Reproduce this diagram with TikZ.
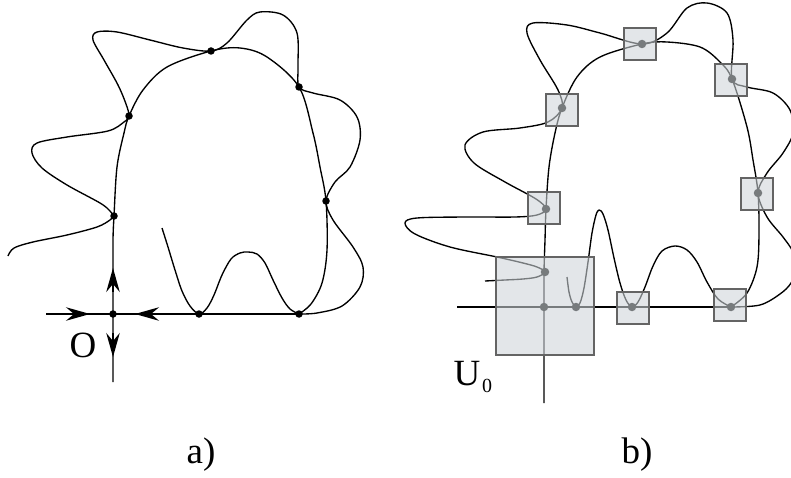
\documentclass[tikz,border=0pt]{standalone}
\usepackage{fontspec}
\setmainfont{Liberation Serif}
\newfontfamily\lblfont{Liberation Serif}
\usetikzlibrary{arrows.meta}
\definecolor{boxfill}{RGB}{206,212,217}
\definecolor{boxline}{RGB}{100,100,100}
\begin{document}
\begin{tikzpicture}[x=1pt,y=-1pt,
  curve/.style={line width=1.35pt,black,line join=round},
  smoothcurve/.style={curve,smooth,tension=0.55},
  dotpt/.style={circle,fill=black,inner sep=0pt,minimum size=7.5pt},
  dotb/.style={circle,fill=black,inner sep=0pt,minimum size=8.5pt},
  nbhd/.style={rectangle,draw=boxline,line width=1.1pt,fill=boxfill,fill opacity=0.58,draw opacity=1,inner sep=0pt,minimum size=32pt},
  bignbhd/.style={nbhd,minimum size=98pt},
  arr/.style={line width=1.35pt,-{Stealth[length=24pt,width=13.5pt,inset=8pt]}},
  lbl/.style={font=\lblfont\fontsize{37}{37}\selectfont,inner sep=0pt},
  sublbl/.style={font=\lblfont\fontsize{20}{20}\selectfont,inner sep=0pt}]
\useasboundingbox (0,0) rectangle (791,478);

% ---------------- panel a ----------------
\draw[smoothcurve] plot coordinates {(113,382) (113,330) (113,280) (113,240) (114,216) (117,167) (124,133) (129,116) (143,90) (167,67) (211,51) (240,48) (267,57) (299,87) (313,133) (320,167) (326,201) (327,250) (322,283) (311,304) (299,314)};
\coordinate (hA) at (46,314);
\coordinate (hB) at (299,314);
\draw[curve] (hA) -- (hB);
\draw[smoothcurve] plot coordinates {(8,256) (14,248) (33,242) (67,235) (97,227) (110,220) (113,216) (110,211) (100,203) (67,185) (42,168) (32,153) (37,143) (67,137) (108,131) (124,122) (129,116) (126,104) (118,85) (104,60) (93,40) (97,32) (117,32) (150,40) (183,48) (211,51) (227,43) (247,20) (260,12) (283,15) (297,33) (298,67) (299,87) (313,93) (340,100) (357,117) (360,140) (350,167) (335,182) (326,201) (333,220) (353,247) (363,267) (360,287) (342,306) (317,313) (299,314)};
\draw[smoothcurve] plot coordinates {(162,228) (168,247) (175,270) (182,291) (190,306) (199,314) (207,308) (214,295) (222,275) (231,259) (240,253) (248,252) (257,254) (265,263) (273,280) (282,298) (290,309) (299,314)};
\node[dotpt] (a0) at (113,314) {};
\node[dotpt] (a1) at (199,314) {};
\node[dotpt] (a2) at (299,314) {};
\node[dotpt] (a3) at (114,216) {};
\node[dotpt] (a4) at (129,116) {};
\node[dotpt] (a5) at (211,51) {};
\node[dotpt] (a6) at (299,87) {};
\node[dotpt] (a7) at (326,201) {};
\coordinate (r1) at (66,314); \coordinate (r2) at (90,314);
\coordinate (l1) at (160,314); \coordinate (l2) at (135,314);
\coordinate (u1) at (113,292); \coordinate (u2) at (113,268);
\coordinate (d1) at (113,333); \coordinate (d2) at (113,357);
\draw[arr] (r1) -- (r2);
\draw[arr] (l1) -- (l2);
\draw[arr] (u1) -- (u2);
\draw[arr] (d1) -- (d2);
\node[lbl] (lO) at (83,345) {O};
\node[lbl] (la) at (201,455) {a)};

% ---------------- panel b ----------------
\draw[smoothcurve] plot coordinates {(544,403) (544,350) (544,307) (544,272) (545,240) (546,209) (549,167) (555,133) (562,108) (577,77) (600,57) (642,44) (667,42) (700,47) (720,62) (732,79) (747,127) (753,160) (758,193) (759,233) (757,267) (747,293) (731,307)};
\coordinate (hC) at (457,307);
\coordinate (hD) at (731,307);
\draw[curve] (hC) -- (hD);
\draw[smoothcurve] plot coordinates {(485,281) (505,280) (523,279) (537,277) (545,272) (537,267) (523,263) (497,257) (450,247) (415,234) (405,223) (417,218) (467,217) (515,217) (537,215) (546,209) (536,199) (505,182) (474,163) (465,145) (483,132) (520,128) (548,122) (562,108) (558,90) (540,60) (527,33) (533,23) (567,25) (600,33) (642,44) (667,33) (687,8) (707,3) (727,13) (733,40) (732,79) (747,87) (773,93) (790,110) (793,133) (783,153) (767,173) (758,193) (767,217) (783,237) (793,252) (796,268) (791,283) (780,294) (760,305) (731,307)};
\draw[smoothcurve] plot coordinates {(567,277) (569,292) (572,302) (576,307) (580,303) (584,288) (588,262) (592,233) (596,215) (599,210) (603,214) (608,230) (614,258) (620,283) (626,300) (632,307) (638,302) (645,287) (653,266) (662,251) (675,246) (687,250) (697,262) (707,282) (718,299) (731,307)};
\node[dotb] (b0) at (544,307) {};
\node[dotb] (b1) at (576,307) {};
\node[dotb] (b2) at (545,272) {};
\node[dotb] (b3) at (546,209) {};
\node[dotb] (b4) at (562,108) {};
\node[dotb] (b5) at (642,44) {};
\node[dotb] (b6) at (732,79) {};
\node[dotb] (b7) at (758,193) {};
\node[dotb] (b8) at (731,307) {};
\node[dotb] (b9) at (632,307) {};
\node[bignbhd] (U0) at (545,306) {};
\node[nbhd] (n1) at (562,110) {};
\node[nbhd] (n2) at (640,44) {};
\node[nbhd] (n3) at (731,80) {};
\node[nbhd] (n4) at (757,194) {};
\node[nbhd] (n5) at (544,208) {};
\node[nbhd] (n6) at (633,308) {};
\node[nbhd] (n7) at (730,305) {};
\node[lbl] (lU) at (467,374) {U};
\node[sublbl] (lU0) at (487,386) {0};
\node[lbl] (lb) at (637,455) {b)};
\end{tikzpicture}
\end{document}
